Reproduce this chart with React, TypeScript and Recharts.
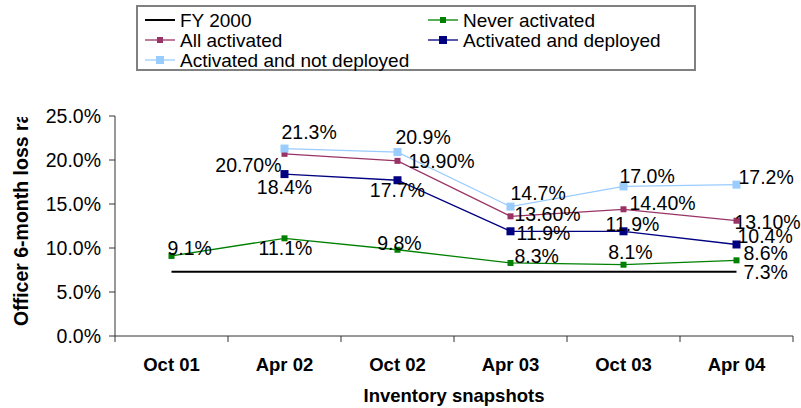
import React from 'react';
import { LineChart, Line, XAxis, YAxis, Legend, LabelList } from 'recharts';

const categories = ['Oct 01', 'Apr 02', 'Oct 02', 'Apr 03', 'Oct 03', 'Apr 04'];
const fy2000 = [7.3, 7.3, 7.3, 7.3, 7.3, 7.3];
const neverActivated = [9.1, 11.1, 9.8, 8.3, 8.1, 8.6];
const allActivated = [null, 20.7, 19.9, 13.6, 14.4, 13.1];
const activatedDeployed = [null, 18.4, 17.7, 11.9, 11.9, 10.4];
const activatedNotDeployed = [null, 21.3, 20.9, 14.7, 17.0, 17.2];
const yTicks = [0, 5, 10, 15, 20, 25];

const FONT = '"Liberation Sans", Arial, sans-serif';
const W = 801;
const H = 408;
const PLOT_LEFT = 115;
const PLOT_RIGHT = 793;
const PLOT_TOP = 116;
const PLOT_BOTTOM = 336;
const BAND = (PLOT_RIGHT - PLOT_LEFT) / categories.length;

const data = categories.map((c, i) => ({
  cat: c,
  fy: fy2000[i],
  never: neverActivated[i],
  all: allActivated[i],
  dep: activatedDeployed[i],
  notdep: activatedNotDeployed[i],
}));

type Off = [number, number, 'start' | 'middle' | 'end'] | null;

// label placement (dx, dy from point, anchor)
const fyOffsets: Off[] = [null, null, null, null, null, [7, 0, 'start']];
const neverOffsets: Off[] = [
  [-4, -8, 'start'], [1, 10, 'middle'], [2, -7, 'middle'], [4, -7, 'start'], [7, -13, 'middle'], [7, -7, 'start'],
];
const allOffsets: Off[] = [null, [-3, 11, 'end'], [11, 0, 'start'], [4, -2, 'start'], [6, -6, 'start'], [-2, 1, 'start']];
const depOffsets: Off[] = [null, [0, 13, 'middle'], [0, 10, 'middle'], [6, 2, 'start'], [9, -7, 'middle'], [1, -8, 'start']];
const notDepOffsets: Off[] = [null, [-3, -17, 'start'], [-2, -15, 'start'], [0, -14, 'start'], [-4, -10, 'start'], [2, -8, 'start']];

const series = [
  { key: 'fy', name: 'FY 2000', color: '#000000', width: 2, marker: 0, offsets: fyOffsets, digits: 1 },
  { key: 'never', name: 'Never activated', color: '#008000', width: 1.3, marker: 6, offsets: neverOffsets, digits: 1 },
  { key: 'all', name: 'All activated', color: '#993366', width: 1.3, marker: 6, offsets: allOffsets, digits: 2 },
  { key: 'dep', name: 'Activated and deployed', color: '#000080', width: 1.3, marker: 8, offsets: depOffsets, digits: 1 },
  { key: 'notdep', name: 'Activated and not deployed', color: '#99CCFF', width: 1.3, marker: 8, offsets: notDepOffsets, digits: 1 },
];

const makeLabel = (offsets: Off[], digits: number) => (props: any) => {
  const { x, y, value, index } = props;
  const off = offsets[index];
  if (off == null || value == null || x == null || y == null) return null;
  return (
    <text
      x={x + off[0]}
      y={y + off[1]}
      textAnchor={off[2]}
      dominantBaseline="central"
      fontFamily={FONT}
      fontSize={19.5}
      fill="#000"
    >
      {Number(value).toFixed(digits) + '%'}
    </text>
  );
};

const makeDot = (size: number, color: string) => (props: any) => {
  const { cx, cy, index } = props;
  if (cx == null || cy == null || size === 0) return <g key={'d' + index} />;
  return <rect key={'d' + index} x={cx - size / 2} y={cy - size / 2} width={size} height={size} fill={color} />;
};

const XTick = (props: any) => {
  const { x, y, payload, index } = props;
  const axisY = y - 22;
  return (
    <g>
      <line x1={x - BAND / 2} y1={axisY} x2={x - BAND / 2} y2={axisY + 6} stroke="#333" />
      {index === categories.length - 1 && (
        <line x1={x + BAND / 2} y1={axisY} x2={x + BAND / 2} y2={axisY + 6} stroke="#333" />
      )}
      <text x={x} y={y} dy="0.71em" textAnchor="middle" fontFamily={FONT} fontSize={18.5} fontWeight="bold" fill="#000">
        {payload.value}
      </text>
    </g>
  );
};

const LegendBox = () => {
  const items = [
    { s: series[0], x: 9, y: 15 },
    { s: series[1], x: 292, y: 15 },
    { s: series[2], x: 9, y: 35 },
    { s: series[3], x: 292, y: 35 },
    { s: series[4], x: 9, y: 55 },
  ];
  return (
    <svg width={560} height={66} style={{ display: 'block' }}>
      <rect x={1} y={1} width={558} height={64} fill="#fff" stroke="#808080" strokeWidth={2} />
      {items.map(({ s, x, y }) => (
        <g key={s.key}>
          <line x1={x} y1={y} x2={x + 30} y2={y} stroke={s.color} strokeWidth={s.width} />
          {s.marker > 0 && (
            <rect x={x + 15 - s.marker / 2} y={y - s.marker / 2} width={s.marker} height={s.marker} fill={s.color} />
          )}
          <text x={x + 35} y={y} dominantBaseline="central" fontFamily={FONT} fontSize={19} fill="#000">
            {s.name}
          </text>
        </g>
      ))}
    </svg>
  );
};

const YTitle = () => {
  const cx = 21;
  const startY = 326;
  return (
    <g>
      <defs>
        <clipPath id="ytitle-clip">
          <rect x={0} y={PLOT_TOP + 1} width={40} height={H} />
        </clipPath>
      </defs>
      <g clipPath="url(#ytitle-clip)">
        <text
          x={cx}
          y={startY}
          transform={`rotate(-90 ${cx} ${startY})`}
          textAnchor="start"
          dominantBaseline="central"
          fontFamily={FONT}
          fontSize={19.5}
          fontWeight="bold"
          fill="#000"
        >
          Officer 6-month loss rate
        </text>
      </g>
    </g>
  );
};

const XTitle = (props: any) => {
  const { viewBox } = props;
  const cx = viewBox.x + viewBox.width / 2;
  return (
    <text x={cx} y={PLOT_BOTTOM + 59} textAnchor="middle" dominantBaseline="central" fontFamily={FONT} fontSize={18.5} fontWeight="bold" fill="#000">
      Inventory snapshots
    </text>
  );
};

export default function App() {
  return (
    <div style={{ position: 'absolute', left: 0, top: 0, background: '#fff' }}>
      <LineChart
        width={W}
        height={H}
        data={data}
        margin={{ top: PLOT_TOP, right: W - PLOT_RIGHT, bottom: 0, left: 0 }}
      >
        <XAxis
          dataKey="cat"
          height={H - PLOT_BOTTOM}
          padding={{ left: BAND / 2, right: BAND / 2 }}
          tickLine={false}
          tickSize={6}
          tickMargin={16}
          axisLine={{ stroke: '#333' }}
          tick={<XTick />}
          interval={0}
          label={<XTitle />}
        />
        <YAxis
          width={PLOT_LEFT}
          domain={[0, 25]}
          ticks={yTicks}
          interval={0}
          tickSize={6}
          tickMargin={8}
          axisLine={{ stroke: '#333' }}
          tickLine={{ stroke: '#333' }}
          tickFormatter={(v: number) => v.toFixed(1) + '%'}
          tick={{ fontFamily: FONT, fontSize: 19.5, fill: '#000' }}
          label={<YTitle />}
        />
        <Legend
          layout="horizontal"
          verticalAlign="middle"
          align="center"
          wrapperStyle={{ position: 'absolute', top: 5, left: 136, width: 560, height: 66 }}
          content={<LegendBox />}
        />
        {series.map((s) => (
          <Line
            key={s.key}
            dataKey={s.key}
            name={s.name}
            stroke={s.color}
            strokeWidth={s.width}
            dot={makeDot(s.marker, s.color)}
            activeDot={false}
            isAnimationActive={false}
          >
            <LabelList dataKey={s.key} content={makeLabel(s.offsets, s.digits)} />
          </Line>
        ))}
      </LineChart>
    </div>
  );
}
